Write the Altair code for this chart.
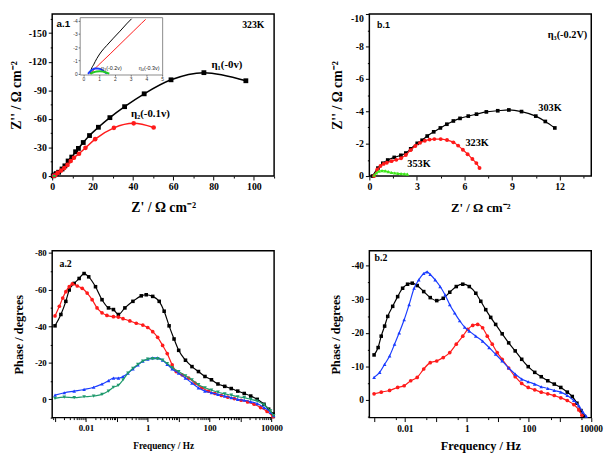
import altair as alt
import pandas as pd

SERIF = "Liberation Serif"
SANS = "Liberation Sans"
BLACK = "#000000"
RED = "#ff1a1a"
BLUE = "#1a3cff"
TEAL = "#1f9a6c"
LIME = "#3ee81a"
GREEN_IN = "#22cc22"
MINUS = "replace(datum.label, '\u2212', '-')"

W = 226
H1 = 165
H2 = 170

# ---------------- a.1 Nyquist (323 K) ----------------
a1_eta1_zr = [0.5, 1.1, 2.0, 3.2, 4.9, 6.3, 7.9, 9.7, 11.6, 13.0, 15.4, 18.5, 22.9, 28.6, 35.9, 45.6, 58.9, 75.2, 96.0]
a1_eta1_zi = [-0.3, -1.3, -2.6, -4.0, -7.4, -10.7, -15.8, -19.9, -25.5, -29.0, -35.2, -42.5, -51.2, -61.3, -72.8, -86.3, -101.0, -108.5, -100.0]
a1_eta2_zr = [0.8, 1.5, 2.7, 4.4, 6.0, 7.6, 9.2, 10.8, 13.3, 16.5, 21.3, 30.6, 40.4, 50.3]
a1_eta2_zi = [-0.2, -0.8, -3.3, -5.7, -8.4, -11.7, -15.8, -19.2, -23.4, -29.6, -38.7, -50.6, -55.3, -50.9]
# inset (zoom of the origin region)
in_eta1_zr = [0.45, 0.5, 0.65, 0.86, 1.13, 1.48, 1.91, 2.33, 2.74, 3.06]
in_eta1_zi = [0.0, -0.31, -0.68, -1.16, -1.65, -2.13, -2.69, -3.22, -3.76, -4.15]
in_eta2_zr = [0.45, 0.7, 1.2, 1.7, 2.2, 2.7, 3.2, 3.7, 3.95]
in_eta2_zi = [0.0, -0.35, -0.93, -1.5, -2.08, -2.66, -3.24, -3.82, -4.1]
in_eta3_zr = [0.3, 0.45, 0.6, 0.75, 0.9, 1.05, 1.2, 1.35, 1.5]
in_eta3_zi = [0.0, -0.2, -0.33, -0.4, -0.41, -0.37, -0.28, -0.15, -0.03]
in_eta4_zr = [0.45, 0.65, 0.85, 1.05, 1.25, 1.45, 1.65]
in_eta4_zi = [0.0, -0.12, -0.18, -0.2, -0.17, -0.1, -0.02]

# ---------------- b.1 Nyquist (eta3) ----------------
b1_303_zr = [0.2, 0.54, 0.85, 1.16, 1.57, 1.99, 2.30, 2.61, 3.02, 3.33, 3.65, 4.06, 4.48, 4.89, 5.30, 5.72, 6.24, 6.76, 7.38, 8.1, 8.8, 9.6, 10.5, 11.1, 11.7]
b1_303_zi = [0.0, -0.49, -0.79, -0.99, -1.15, -1.28, -1.42, -1.68, -2.02, -2.21, -2.47, -2.73, -2.97, -3.2, -3.4, -3.56, -3.7, -3.82, -3.96, -4.03, -4.08, -3.98, -3.7, -3.37, -2.97]
b1_323_zr = [0.3, 0.5, 0.7, 0.9, 1.1, 1.4, 1.7, 2.0, 2.3, 2.6, 2.9, 3.2, 3.5, 3.8, 4.1, 4.5, 4.9, 5.3, 5.6, 5.9, 6.2, 6.5, 6.75, 6.95]
b1_323_zi = [0.0, -0.4, -0.62, -0.75, -0.82, -0.92, -1.0, -1.1, -1.3, -1.6, -1.85, -2.05, -2.18, -2.25, -2.28, -2.28, -2.22, -2.08, -1.88, -1.62, -1.35, -1.05, -0.8, -0.5]
b1_353_zr = [0.3, 0.45, 0.6, 0.8, 1.0, 1.2, 1.4, 1.6, 1.8, 2.0, 2.2, 2.4]
b1_353_zi = [-0.05, -0.2, -0.3, -0.33, -0.32, -0.27, -0.22, -0.19, -0.17, -0.15, -0.13, -0.12]

# ---------------- a.2 Bode phase (log10 of frequency in Hz) ----------------
a2_eta1_logf = [-3.00, -2.81, -2.65, -2.54, -2.38, -2.22, -2.06, -1.91, -1.69, -1.48, -1.27, -1.11, -0.95, -0.74, -0.48, -0.21, -0.05, 0.16, 0.37, 0.53, 0.69, 0.85, 1.00, 1.22, 1.43, 1.64, 1.85, 2.06, 2.27, 2.49, 2.70, 2.91, 3.12, 3.33, 3.54, 3.76, 3.91, 4.05]
a2_eta1_phase = [-40.2, -46.4, -53.6, -59.8, -63.4, -66.1, -68.8, -67.0, -61.6, -54.5, -50.0, -49.1, -46.4, -50.0, -53.6, -56.6, -57.2, -56.3, -53.6, -48.2, -40.2, -33.0, -26.8, -21.4, -17.9, -15.2, -12.5, -10.7, -8.4, -7.1, -5.9, -4.5, -3.2, -1.8, 0.0, 2.7, 5.4, 8.0]
a2_eta2_logf = [-3.00, -2.86, -2.75, -2.65, -2.54, -2.44, -2.28, -2.12, -1.96, -1.80, -1.64, -1.48, -1.32, -1.11, -0.95, -0.80, -0.58, -0.37, -0.16, 0.00, 0.16, 0.32, 0.48, 0.63, 0.79, 0.92, 1.11, 1.32, 1.53, 1.75, 1.96, 2.17, 2.38, 2.59, 2.80, 3.02, 3.23, 3.44, 3.65, 3.86, 4.05]
a2_eta2_phase = [-45.6, -50.9, -55.4, -58.9, -61.6, -63.1, -62.0, -60.7, -58.1, -54.5, -50.0, -47.3, -45.9, -45.2, -45.0, -44.1, -42.9, -41.6, -40.6, -39.3, -37.0, -33.9, -29.5, -25.0, -18.8, -15.2, -13.4, -11.6, -8.9, -6.3, -4.5, -3.2, -2.1, -1.2, -0.4, 0.5, 1.4, 2.7, 4.5, 6.6, 9.5]
a2_eta3_logf = [-3.00, -2.70, -2.38, -2.06, -1.75, -1.48, -1.27, -1.11, -0.95, -0.80, -0.64, -0.48, -0.32, -0.16, 0.00, 0.16, 0.32, 0.48, 0.63, 0.79, 1.00, 1.22, 1.43, 1.64, 1.85, 2.06, 2.27, 2.49, 2.70, 2.91, 3.12, 3.33, 3.54, 3.76, 3.97, 4.07]
a2_eta3_phase = [-2.3, -3.6, -4.5, -5.4, -6.6, -8.4, -10.2, -11.6, -11.6, -12.5, -14.3, -16.6, -18.8, -20.9, -22.0, -22.7, -22.7, -21.4, -19.1, -16.6, -14.3, -11.6, -8.9, -6.3, -4.5, -3.6, -2.7, -1.8, -0.9, 0.0, 0.5, 1.3, 2.3, 4.5, 7.1, 8.9]
a2_eta4_logf = [-3.00, -2.70, -2.38, -2.06, -1.75, -1.48, -1.27, -1.11, -0.95, -0.80, -0.64, -0.48, -0.32, -0.16, 0.00, 0.16, 0.32, 0.48, 0.63, 0.79, 1.00, 1.22, 1.43, 1.64, 1.85, 2.06, 2.27, 2.49, 2.70, 2.91, 3.12, 3.33, 3.54, 3.76, 3.97, 4.07]
a2_eta4_phase = [-0.5, -1.2, -0.9, -1.4, -1.8, -2.7, -4.5, -6.6, -7.7, -10.7, -14.3, -17.0, -19.1, -20.9, -22.0, -22.3, -22.3, -21.4, -19.6, -17.3, -15.2, -12.9, -10.7, -8.0, -6.3, -5.0, -3.9, -3.0, -2.3, -1.4, -0.9, 0.0, 0.9, 3.0, 6.3, 8.9]

# ---------------- b.2 Bode phase ----------------
b2_303_logf = [-2.99, -2.86, -2.76, -2.65, -2.55, -2.39, -2.23, -2.07, -1.91, -1.76, -1.60, -1.39, -1.18, -0.97, -0.76, -0.55, -0.34, -0.13, 0.08, 0.29, 0.45, 0.61, 0.77, 0.93, 1.14, 1.35, 1.56, 1.77, 1.98, 2.19, 2.40, 2.61, 2.82, 3.03, 3.24, 3.40, 3.55, 3.68, 3.79]
b2_303_phase = [-13.4, -15.6, -19.0, -22.0, -24.9, -27.9, -30.8, -33.3, -34.5, -34.8, -34.1, -32.3, -30.5, -29.6, -30.3, -32.1, -33.8, -34.5, -33.8, -31.8, -29.4, -26.9, -24.6, -22.5, -19.7, -17.0, -14.6, -12.1, -9.9, -8.2, -6.9, -5.7, -4.7, -3.7, -2.3, -1.0, 1.0, 3.2, 4.9]
b2_353_logf = [-2.99, -2.81, -2.65, -2.49, -2.33, -2.18, -2.02, -1.86, -1.70, -1.55, -1.39, -1.28, -1.18, -1.02, -0.86, -0.70, -0.55, -0.39, -0.23, -0.07, 0.08, 0.29, 0.51, 0.72, 0.93, 1.14, 1.35, 1.56, 1.77, 1.98, 2.19, 2.40, 2.61, 2.82, 3.03, 3.24, 3.45, 3.61, 3.74, 3.85]
b2_353_phase = [-6.7, -8.2, -10.6, -13.1, -16.6, -20.0, -23.9, -28.4, -33.3, -35.8, -37.7, -38.2, -37.4, -35.8, -33.8, -31.3, -28.4, -25.9, -23.6, -21.7, -20.5, -19.0, -17.5, -15.6, -13.6, -11.6, -9.5, -7.7, -6.2, -5.4, -4.7, -3.9, -3.4, -2.8, -2.3, -1.3, 0.2, 1.7, 3.6, 4.9]
b2_323_logf = [-2.99, -2.76, -2.49, -2.23, -2.02, -1.81, -1.60, -1.39, -1.18, -0.97, -0.76, -0.55, -0.34, -0.13, 0.03, 0.19, 0.35, 0.51, 0.66, 0.82, 0.98, 1.14, 1.35, 1.56, 1.77, 1.98, 2.19, 2.40, 2.61, 2.82, 3.03, 3.24, 3.45, 3.61, 3.71]
b2_323_phase = [-1.8, -2.3, -2.8, -3.7, -4.2, -5.7, -6.7, -9.2, -11.1, -11.6, -12.6, -14.1, -16.6, -19.0, -21.0, -22.2, -22.5, -21.5, -19.0, -16.6, -14.1, -12.1, -9.5, -6.9, -4.9, -3.7, -3.0, -2.3, -1.8, -1.3, -0.6, 0.2, 1.4, 3.0, 4.6]

# ---------------- tick values ----------------
a1_x_major = [0, 20, 40, 60, 80, 100]
a1_x_minor = [10, 30, 50, 70, 90, 110]
a1_y_major = [0, -30, -60, -90, -120, -150]
a1_y_minor = [-15, -45, -75, -105, -135, -165]
b1_x_major = [0, 3, 6, 9, 12]
b1_x_minor = [1.5, 4.5, 7.5, 10.5, 13.5]
b1_y_major = [0, -2, -4, -6, -8, -10]
b1_y_minor = [-1, -3, -5, -7, -9]
decades = [0.001, 0.01, 0.1, 1, 10, 100, 1000, 10000]
a2_x_minor = [m * d for d in [0.0001, 0.001, 0.01, 0.1, 1, 10, 100, 1000, 10000] for m in range(2, 10)]
a2_x_minor = [v for v in a2_x_minor if 0.00081 < v < 12200]
b2_x_minor = [0.005, 0.05, 0.5, 5, 50, 500, 5000]
a2_y_major = [0, -20, -40, -60, -80]
a2_y_minor = [10, -10, -30, -50, -70]
b2_y_major = [0, -10, -20, -30, -40]
b2_y_minor = [5, -5, -15, -25, -35]
LOG_LABEL = "indexof([0.01, 1, 100, 10000], datum.value) >= 0 ? datum.value + '' : ''"


def lin(domain, rng=None):
    if rng is None:
        return alt.Scale(domain=domain, nice=False, zero=False)
    return alt.Scale(domain=domain, nice=False, zero=False, range=rng)


def logs(domain):
    return alt.Scale(type="log", domain=domain, nice=False)


def enc(xs, ys):
    return dict(x=alt.X("x:Q", scale=xs, axis=None), y=alt.Y("y:Q", scale=ys, axis=None))


def series(xv, yv, xs, ys, color, shape=None, size=16, sw=1.2):
    df = pd.DataFrame({"x": xv, "y": yv})
    out = [alt.Chart(df).mark_line(color=color, strokeWidth=sw, interpolate="monotone").encode(**enc(xs, ys))]
    if shape:
        out.append(alt.Chart(df).mark_point(shape=shape, filled=True, color=color, size=size, opacity=1).encode(**enc(xs, ys)))
    return out


def texts(labels, xv, yv, xs, ys, size, font=SERIF, weight="bold", color="black"):
    df = pd.DataFrame({"x": xv, "y": yv, "t": labels})
    return alt.Chart(df).mark_text(fontSize=size, font=font, fontWeight=weight, color=color,
                                   align="center", baseline="middle").encode(text="t:N", **enc(xs, ys))


def carrier(xv, yv, xs, ys, xaxis, yaxis):
    df = pd.DataFrame({"x": xv[:1], "y": yv[:1]})
    return alt.Chart(df).mark_point(opacity=0).encode(
        x=alt.X("x:Q", scale=xs, axis=xaxis), y=alt.Y("y:Q", scale=ys, axis=yaxis))


def major_axis(orient, values, title, lfs, tfs, tpad, expr=MINUS, **kw):
    return alt.Axis(orient=orient, values=values, title=title, labelExpr=expr, tickSize=4,
                    labelFontSize=lfs, titleFontSize=tfs, titlePadding=tpad, labelPadding=2,
                    labelOverlap=False, labelFlush=False, **kw)


def minor_axis(orient, values):
    return alt.Axis(orient=orient, values=values, labels=False, title=None, tickSize=2)


# ================= a.1 =================
xs = lin([0, 110])
ys = lin([0, -170])
a1_main_layers = []
a1_main_layers += series(a1_eta1_zr, a1_eta1_zi, xs, ys, BLACK, "square", 24, 1.5)
a1_main_layers += series(a1_eta2_zr, a1_eta2_zi, xs, ys, RED, "circle", 22, 1.5)
a1_main_layers += series(in_eta3_zr, in_eta3_zi, xs, ys, BLUE, None, sw=2)
a1_main_layers += series(in_eta4_zr, in_eta4_zi, xs, ys, GREEN_IN, None, sw=2)
a1_main_layers.append(carrier(a1_eta1_zr, a1_eta1_zi, xs, ys,
                              major_axis("bottom", a1_x_major, "Z' / \u03a9  cm\u207b\u00b2", 10, 14, 9),
                              major_axis("left", a1_y_major, "Z'' / \u03a9 cm\u207b\u00b2", 10, 14, 5)))
a1_main_layers.append(carrier(a1_eta1_zr, a1_eta1_zi, xs, ys,
                              minor_axis("bottom", a1_x_minor), minor_axis("left", a1_y_minor)))
a1_main_layers.append(texts(["a.1"], [5.5], [-160], xs, ys, 10, SANS))
a1_main_layers.append(texts(["323K"], [99.7], [-158], xs, ys, 10))
a1_main_layers.append(texts(["\u03b7\u2081(-0v)", "\u03b7\u2082(-0.1v)"], [86.6, 48.7], [-116.6, -65], xs, ys, 11))
a1_main = alt.layer(*a1_main_layers).resolve_axis(x="independent", y="independent")

IN_X0, IN_X1, IN_Y0, IN_Y1 = 28, 112, 61.6, 3.2
xi = lin([-0.23, 5.0], [IN_X0, IN_X1])
yi = lin([0.05, -4.27], [IN_Y0, IN_Y1])
inset_style = dict(labelFontSize=5, labelFont=SANS, labelFontWeight="normal", labelColor="#333333",
                   tickSize=1.5, tickColor="#555555", labelPadding=1, domain=True, domainColor="#8a8a8a",
                   domainWidth=1, labelFlush=False, labelOverlap=False, title=None)
in_layers = []
in_layers += series(in_eta1_zr, in_eta1_zi, xi, yi, BLACK, None, sw=1)
in_layers += series(in_eta2_zr, in_eta2_zi, xi, yi, RED, None, sw=1)
in_layers += series(in_eta3_zr, in_eta3_zi, xi, yi, BLUE, None, sw=2)
in_layers += series(in_eta4_zr, in_eta4_zi, xi, yi, GREEN_IN, None, sw=2)
in_layers.append(carrier(in_eta1_zr, in_eta1_zi, xi, yi,
                         alt.Axis(orient="bottom", offset=IN_Y0 - H1, values=[0, 1, 2, 3, 4, 5], **inset_style),
                         alt.Axis(orient="left", offset=-IN_X0, values=[0, -1, -2, -3, -4], labelExpr=MINUS, **inset_style)))
in_layers.append(carrier(in_eta1_zr, in_eta1_zi, xi, yi,
                         alt.Axis(orient="top", offset=-IN_Y1, labels=False, ticks=False, title=None,
                                  domain=True, domainColor="#8a8a8a", domainWidth=1),
                         alt.Axis(orient="right", offset=IN_X1 - W, labels=False, ticks=False, title=None,
                                  domain=True, domainColor="#8a8a8a", domainWidth=1)))
in_layers.append(texts(["\u03b7\u2083(-0.2v)", "\u03b7\u2084(-0.3v)"], [1.78, 4.17], [-0.44, -0.44], xi, yi, 5.5,
                       SANS, "normal", "#222222"))
a1_inset = alt.layer(*in_layers).resolve_axis(x="independent", y="independent")
a1 = alt.layer(a1_main, a1_inset).resolve_scale(x="independent", y="independent").properties(width=W, height=H1)

# ================= b.1 =================
xs = lin([0, 14])
ys = lin([0, -10])
b1_layers = []
b1_layers += series(b1_303_zr, b1_303_zi, xs, ys, BLACK, "square", 14, 1.2)
b1_layers += series(b1_323_zr, b1_323_zi, xs, ys, RED, "circle", 16, 1.2)
b1_layers += series(b1_353_zr, b1_353_zi, xs, ys, LIME, "triangle-up", 14, 1.2)
b1_layers.append(carrier(b1_303_zr, b1_303_zi, xs, ys,
                         major_axis("bottom", b1_x_major, "Z' / \u03a9 cm\u207b\u00b2", 10, 13, 10),
                         major_axis("left", b1_y_major, "Z'' / \u03a9 cm\u207b\u00b2", 10, 14, 6,
                                    labelBaseline={"condition": {"test": "datum.value <= -10", "value": "top"},
                                                   "value": "middle"})))
b1_layers.append(carrier(b1_303_zr, b1_303_zi, xs, ys,
                         minor_axis("bottom", b1_x_minor), minor_axis("left", b1_y_minor)))
b1_layers.append(texts(["b.1"], [0.89], [-9.34], xs, ys, 9, SANS))
b1_layers.append(texts(["\u03b7\u2083(-0.2V)", "303K", "323K", "353K"], [12.5, 11.4, 6.8, 3.13],
                       [-8.69, -4.17, -2.03, -0.73], xs, ys, 10.5))
b1 = alt.layer(*b1_layers).resolve_axis(x="independent", y="independent").properties(width=W, height=H1)

# ================= a.2 =================
xs = logs([0.00081, 12200])
ys = lin([10, -81.3])
f = lambda arr: [10 ** v for v in arr]
a2_layers = []
a2_layers += series(f(a2_eta1_logf), a2_eta1_phase, xs, ys, BLACK, "square", 13, 1.2)
a2_layers += series(f(a2_eta2_logf), a2_eta2_phase, xs, ys, RED, "circle", 14, 1.2)
a2_layers += series(f(a2_eta3_logf), a2_eta3_phase, xs, ys, BLUE, "triangle-up", 14, 1.2)
a2_layers += series(f(a2_eta4_logf), a2_eta4_phase, xs, ys, TEAL, "triangle-down", 14, 1.2)
a2_layers.append(carrier(f(a2_eta1_logf), a2_eta1_phase, xs, ys,
                         major_axis("bottom", decades, "Frequency / Hz", 9, 9.5, 8, LOG_LABEL),
                         major_axis("left", a2_y_major, "Phase / degrees", 9, 12.5, 9)))
a2_layers.append(carrier(f(a2_eta1_logf), a2_eta1_phase, xs, ys,
                         minor_axis("bottom", a2_x_minor), minor_axis("left", a2_y_minor)))
a2_layers.append(texts(["a.2"], [0.0022], [-74.0], xs, ys, 10))
a2 = alt.layer(*a2_layers).resolve_axis(x="independent", y="independent").properties(width=W, height=H2)

# ================= b.2 =================
xs = logs([0.00072, 10300])
ys = lin([5.3, -44.5])
b2_layers = []
b2_layers += series(f(b2_303_logf), b2_303_phase, xs, ys, BLACK, "square", 13, 1.2)
b2_layers += series(f(b2_323_logf), b2_323_phase, xs, ys, RED, "circle", 14, 1.2)
b2_layers += series(f(b2_353_logf), b2_353_phase, xs, ys, BLUE, "triangle-up", 14, 1.2)
b2_layers.append(carrier(f(b2_303_logf), b2_303_phase, xs, ys,
                         major_axis("bottom", decades, "Frequency / Hz", 9.5, 12.5, 7, LOG_LABEL),
                         major_axis("left", b2_y_major, "Phase / degrees", 9.5, 12.5, 9)))
b2_layers.append(carrier(f(b2_303_logf), b2_303_phase, xs, ys,
                         minor_axis("bottom", b2_x_minor), minor_axis("left", b2_y_minor)))
b2_layers.append(texts(["b.2"], [0.0017], [-42.4], xs, ys, 10))
b2 = alt.layer(*b2_layers).resolve_axis(x="independent", y="independent").properties(width=W, height=H2)

chart = alt.concat(a1, b1, a2, b2, columns=2, spacing={"row": 76, "column": 97}, bounds="flush").properties(
    padding={"left": 0, "top": 0, "right": 2, "bottom": 2}
).configure_view(stroke="black", strokeWidth=1.5).configure_axis(
    grid=False, domain=False, tickColor="black", tickWidth=1, labelColor="black", titleColor="black",
    labelFont=SERIF, titleFont=SERIF, labelFontWeight="bold", titleFontWeight="bold", minExtent=0
)

chart.save("out.html", embed_options={"renderer": "svg", "actions": False})
